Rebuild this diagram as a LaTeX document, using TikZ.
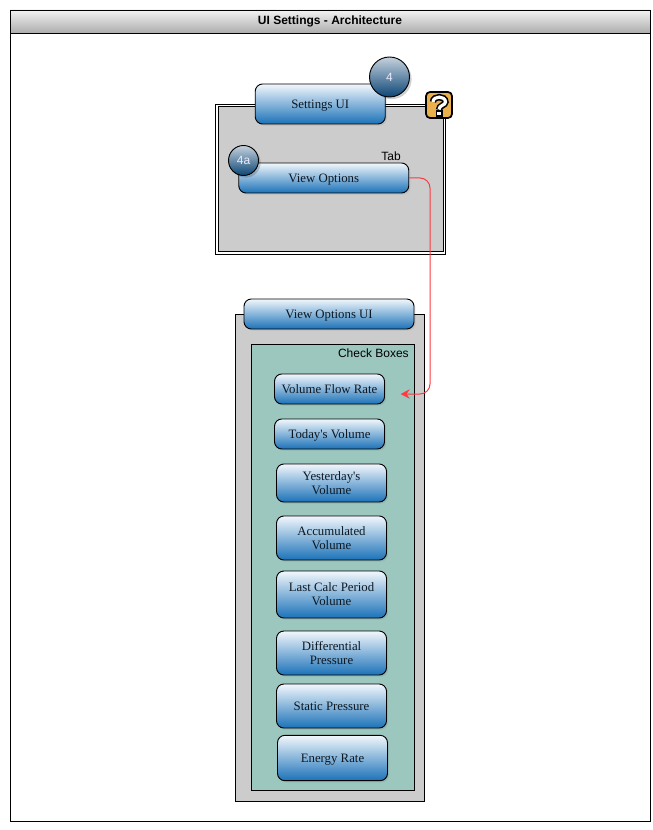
\documentclass[tikz,border=0pt]{standalone}
\usepackage{fontspec}
\newfontfamily\uiserif{Liberation Serif}
\newfontfamily\uisans{Liberation Sans}
\usetikzlibrary{shadows,arrows.meta}
\definecolor{btntop}{HTML}{F2F7FC}
\definecolor{btnbot}{HTML}{1B72B8}
\definecolor{btntext}{HTML}{0E1822}
\definecolor{panelgray}{HTML}{CCCCCC}
\definecolor{panelteal}{HTML}{9CC7BE}
\definecolor{wire}{HTML}{FF3A42}
\definecolor{gold}{HTML}{E9B04C}
\definecolor{BadgeTop}{HTML}{C6D2DD}
\definecolor{BadgeBot}{HTML}{0B4676}
\tikzset{
  btn/.style={draw=black,line width=0.7pt,rounded corners=5.5pt,top color=btntop,bottom color=btnbot,
    inner sep=0pt,align=center,text=btntext,font=\uiserif\fontsize{9.6pt}{10.6pt}\selectfont,
    general shadow={fill=black,opacity=.07,shadow xshift=1.2pt,shadow yshift=-1.2pt}},
  oneline/.style={text height=6.2pt,text depth=0pt},
  badge/.style={circle,draw=black,line width=0.7pt,top color=BadgeTop,bottom color=BadgeBot,inner sep=0pt,
    text=white!92!blue,font=\uisans\fontsize{9pt}{10pt}\selectfont,
    general shadow={fill=black,opacity=.18,shadow xshift=1.6pt,shadow yshift=-1.6pt}},
  panel/.style={draw=black,line width=0.7pt,inner sep=0pt},
  note/.style={font=\uisans\fontsize{9pt}{10pt}\selectfont,text=black,inner sep=0pt},
  wireline/.style={draw=wire,line width=0.75pt,rounded corners=7.5pt},
}
\begin{document}
\begin{tikzpicture}[x=0.75pt,y=-0.75pt]
\useasboundingbox (0,0) rectangle (652,830);
\fill[white] (0,0) rectangle (652,830);
% frame and title
\node[panel,minimum width=480pt,minimum height=608.25pt] (frame) at (330,415.5) {};
\node[panel,top color=white!95!black,bottom color=black!32,minimum width=480pt,minimum height=17.25pt,
  font=\uisans\bfseries\fontsize{9pt}{10pt}\selectfont] (title) at (330,21.5) {UI Settings - Architecture};
% upper panel (double border)
\node[panel,fill=white,minimum width=172.5pt,minimum height=112.5pt] (outerA) at (330.75,179) {};
\node[panel,fill=panelgray,minimum width=169pt,minimum height=109pt] (innerA) at (330.75,179) {};
\node[btn,oneline,minimum width=97.5pt,minimum height=30pt] (settings) at (320.25,104) {Settings UI};
\node[badge,minimum size=30pt] (b4) at (389.5,77) {4};
% question icon
\node[draw=black,line width=1.3pt,fill=gold,rounded corners=3pt,minimum size=19.5pt,inner sep=0pt] (help) at (439,105) {};
\draw[black,line width=4.8pt] (433,102) .. controls (433,95.5) and (445.5,95.5) .. (445.5,102) .. controls (445.5,105.5) and (439,105) .. (439,110);
\fill[black] (435.5,110.5) rectangle (442.5,117);
\draw[white,line width=2.4pt] (433,102) .. controls (433,95.5) and (445.5,95.5) .. (445.5,102) .. controls (445.5,105.5) and (439,105) .. (439,109.5);
\fill[white] (437.2,112.2) rectangle (440.8,115.4);
% tab
\node[btn,oneline,minimum width=127.5pt,minimum height=22.5pt] (viewopt) at (323.75,178) {View Options};
\node[badge,minimum size=22.5pt] (b4a) at (243.5,160.5) {4a};
\node[note,anchor=east] (tab) at (401,156) {Tab};
% lower panel
\node[panel,fill=panelgray,minimum width=141.5pt,minimum height=365.25pt] (outerB) at (330,557.5) {};
\node[btn,oneline,minimum width=127.5pt,minimum height=22.5pt] (viewui) at (329,314) {View Options UI};
\node[panel,fill=panelteal,minimum width=122.25pt,minimum height=334.5pt] (teal) at (332.75,567) {};
\node[note,anchor=east] (check) at (409,353) {Check Boxes};
\node[btn,oneline,minimum width=82.5pt,minimum height=22.5pt] (flow) at (329.5,389) {Volume Flow Rate};
\node[btn,oneline,minimum width=82.5pt,minimum height=22.5pt] (today) at (329.5,434) {Today's Volume};
\node[btn,minimum width=82.5pt,minimum height=28.5pt] (yest) at (331.5,483) {Yesterday's\\Volume};
\node[btn,minimum width=82.5pt,minimum height=33pt] (accum) at (331.5,538) {Accumulated\\Volume};
\node[btn,minimum width=82.5pt,minimum height=35.25pt] (last) at (331.5,594.5) {Last Calc Period\\Volume};
\node[btn,minimum width=82.5pt,minimum height=33pt] (diff) at (331.5,653) {Differential\\Pressure};
\node[btn,oneline,minimum width=82.5pt,minimum height=33pt] (stat) at (331.5,706) {Static Pressure};
\node[btn,oneline,minimum width=82.5pt,minimum height=34pt] (energy) at (332.5,758) {Energy Rate};
% connector
\coordinate (wirecorner) at (430,178);
\coordinate (wireend) at (400.5,394);
\draw[wireline,-{Stealth[length=7pt,width=7pt,inset=2.5pt]}] (viewopt.east) -- (wirecorner) |- (wireend);
\end{tikzpicture}
\end{document}
